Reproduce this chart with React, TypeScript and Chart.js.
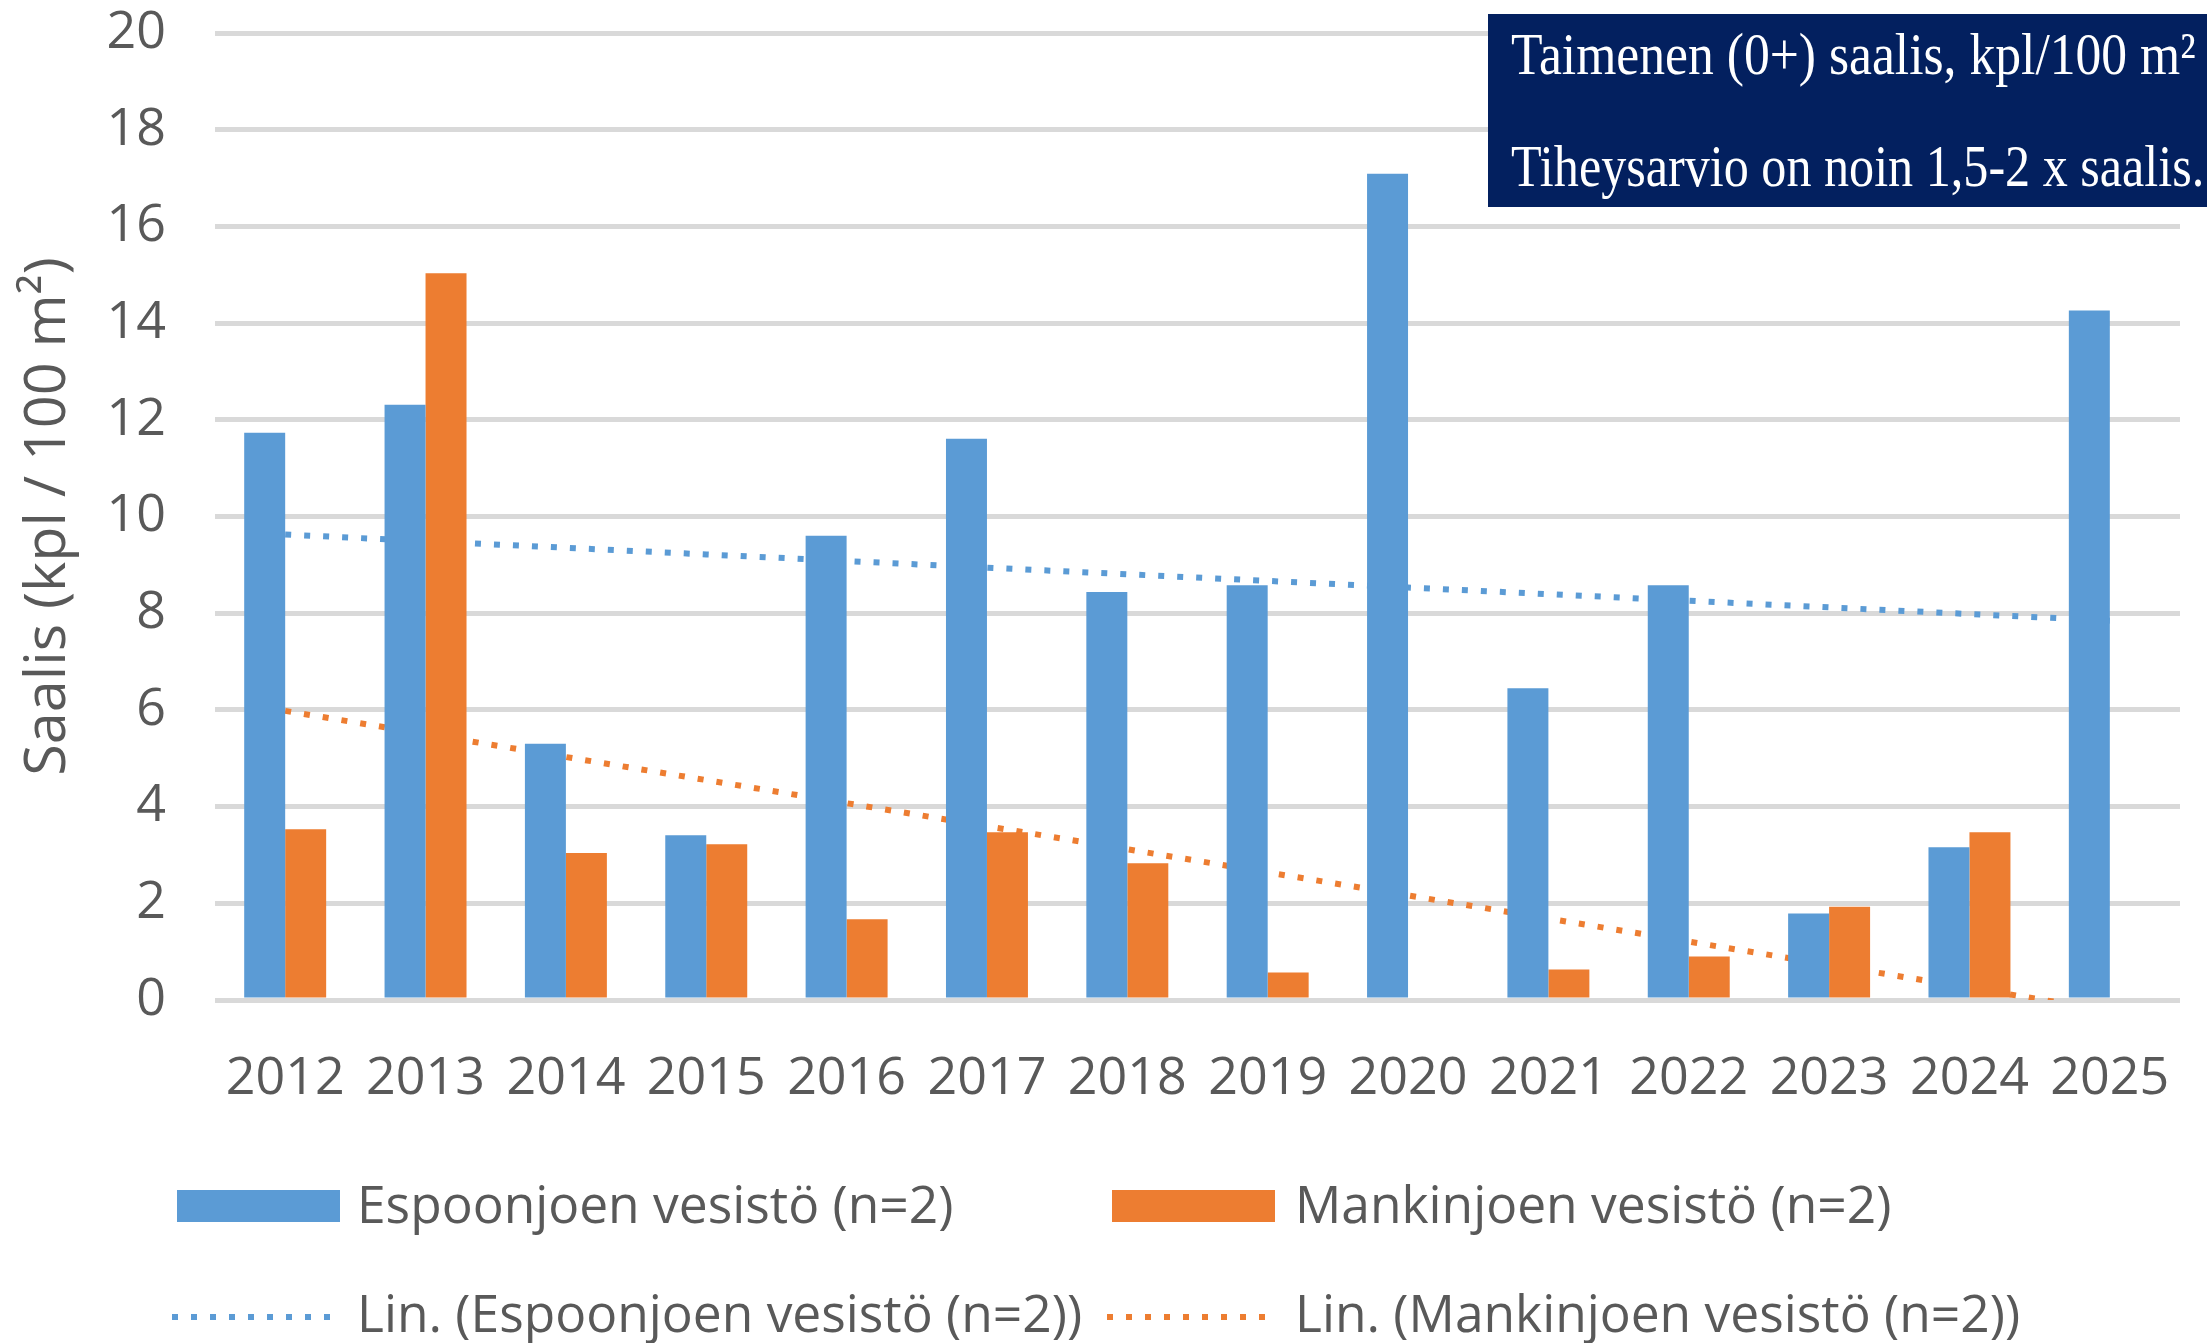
import React, { useEffect, useRef } from "react";
import { Chart, registerables } from "chart.js";

Chart.register(...registerables);

// ---- Data ----
const years = ["2012", "2013", "2014", "2015", "2016", "2017", "2018", "2019", "2020", "2021", "2022", "2023", "2024", "2025"];
const espoonjoki = [11.73, 12.31, 5.3, 3.41, 9.6, 11.61, 8.44, 8.58, 17.09, 6.45, 8.58, 1.79, 3.16, 14.26];
const mankinjoki = [3.53, 15.03, 3.04, 3.22, 1.67, 3.47, 2.83, 0.57, 0, 0.63, 0.9, 1.93, 3.47, 0];
const seriesLabels = ["Espoonjoen vesistö (n=2)", "Mankinjoen vesistö (n=2)"];
const trendLabels = ["Lin. (Espoonjoen vesistö (n=2))", "Lin. (Mankinjoen vesistö (n=2))"];
const yAxisTitle = "Saalis (kpl / 100 m²)";
const infoLines = ["Taimenen (0+) saalis, kpl/100 m²", "Tiheysarvio on noin 1,5-2 x saalis."];
const yMin = 0;
const yMax = 20;
const yStep = 2;

// ---- Styles ----
const BLUE = "#5B9BD5";
const ORANGE = "#ED7D31";
const GRID = "#D9D9D9";
const TEXT = "#595959";
const NAVY = "#03205F";
const SANS = "'Open Sans', sans-serif";

// Excel-style linear trendline (least squares over category index)
function linearTrend(values: number[]): number[] {
  const n = values.length;
  let sx = 0, sy = 0, sxx = 0, sxy = 0;
  values.forEach((v, i) => {
    sx += i; sy += v; sxx += i * i; sxy += i * v;
  });
  const slope = (n * sxy - sx * sy) / (n * sxx - sx * sx);
  const intercept = (sy - slope * sx) / n;
  return values.map((_, i) => intercept + slope * i);
}

const overlayPlugin = {
  id: "overlay",
  afterDraw(chart: any) {
    const ctx: CanvasRenderingContext2D = chart.ctx;
    ctx.save();

    // Info box (top right)
    ctx.fillStyle = NAVY;
    ctx.fillRect(1488, 14, chart.width - 1488, 193);
    ctx.fillStyle = "#FFFFFF";
    ctx.font = "59px 'Liberation Serif', serif";
    ctx.textBaseline = "alphabetic";
    ctx.textAlign = "left";
    const baselines = [74, 186];
    const xScales = [0.875, 0.85];
    infoLines.forEach((line, i) => {
      ctx.save();
      ctx.translate(1511, baselines[i]);
      ctx.scale(xScales[i], 1);
      ctx.fillText(line, 0, 0);
      ctx.restore();
    });

    // Legend
    const ds = chart.data.datasets;
    const colX = [175, 1110];
    const textX = [357, 1295];
    const rowY = [1206, 1315];
    ctx.font = `51.5px ${SANS}`;
    ctx.textBaseline = "middle";
    ds.forEach((d: any, i: number) => {
      const col = i % 2;
      const row = Math.floor(i / 2);
      const x = colX[col];
      const y = rowY[row];
      if (d.type === "line") {
        ctx.strokeStyle = d.borderColor;
        ctx.lineWidth = 6;
        ctx.lineCap = "butt";
        ctx.setLineDash([6, 13]);
        ctx.beginPath();
        ctx.moveTo(x - 3, y + 2);
        ctx.lineTo(x + 160, y + 2);
        ctx.stroke();
        ctx.setLineDash([]);
      } else {
        ctx.fillStyle = d.backgroundColor;
        ctx.fillRect(x + 2, y - 16, 163, 32);
      }
      ctx.fillStyle = TEXT;
      ctx.fillText(d.label, textX[col], y + 2);
    });

    ctx.restore();
  },
};

export default function App() {
  const canvasRef = useRef<HTMLCanvasElement | null>(null);

  useEffect(() => {
    document.body.style.margin = "0";
    const canvas = canvasRef.current;
    if (!canvas) return;

    const chart = new Chart(canvas, {
      type: "bar",
      data: {
        labels: years,
        datasets: [
          {
            type: "bar",
            label: seriesLabels[0],
            data: espoonjoki,
            backgroundColor: BLUE,
            borderWidth: 0,
            categoryPercentage: 0.584,
            barPercentage: 1.0,
            order: 0,
          },
          {
            type: "bar",
            label: seriesLabels[1],
            data: mankinjoki,
            backgroundColor: ORANGE,
            borderWidth: 0,
            categoryPercentage: 0.584,
            barPercentage: 1.0,
            order: 0,
          },
          {
            type: "line",
            label: trendLabels[0],
            data: linearTrend(espoonjoki),
            borderColor: BLUE,
            backgroundColor: BLUE,
            borderWidth: 6,
            borderDash: [6, 13],
            borderCapStyle: "butt",
            pointRadius: 0,
            fill: false,
            tension: 0,
            order: 1,
          },
          {
            type: "line",
            label: trendLabels[1],
            data: linearTrend(mankinjoki),
            borderColor: ORANGE,
            backgroundColor: ORANGE,
            borderWidth: 6,
            borderDash: [6, 13],
            borderCapStyle: "butt",
            pointRadius: 0,
            fill: false,
            tension: 0,
            order: 1,
          },
        ] as any,
      },
      options: {
        animation: false,
        responsive: true,
        maintainAspectRatio: false,
        devicePixelRatio: 1,
        layout: { padding: { left: 0, right: 27, top: 33, bottom: 0 } },
        plugins: {
          legend: { display: false },
          tooltip: { enabled: false },
        },
        scales: {
          x: {
            grid: { display: false, drawTicks: false },
            border: { display: false },
            ticks: {
              color: TEXT,
              font: { family: SANS, size: 52 },
              padding: 48,
              maxRotation: 0,
              autoSkip: false,
            },
            afterFit: (scale: any) => {
              scale.height = 343;
              scale.paddingLeft = 0;
              scale.paddingRight = 0;
            },
          },
          y: {
            min: yMin,
            max: yMax,
            grid: { color: GRID, lineWidth: 5, drawTicks: false },
            border: { display: false },
            ticks: {
              stepSize: yStep,
              color: TEXT,
              font: { family: SANS, size: 52 },
              padding: 49,
            },
            title: {
              display: true,
              text: yAxisTitle,
              color: TEXT,
              font: { family: SANS, size: 57.5 },
              padding: { top: 14, bottom: 0 },
            },
            afterFit: (scale: any) => {
              scale.width = 215;
              scale.paddingTop = 0;
              scale.paddingBottom = 0;
            },
          },
        },
      },
      plugins: [overlayPlugin],
    });

    return () => chart.destroy();
  }, []);

  return (
    <div style={{ position: "fixed", left: 0, top: 0, width: "2207px", height: "1343px", background: "#FFFFFF" }}>
      <canvas ref={canvasRef} />
    </div>
  );
}
